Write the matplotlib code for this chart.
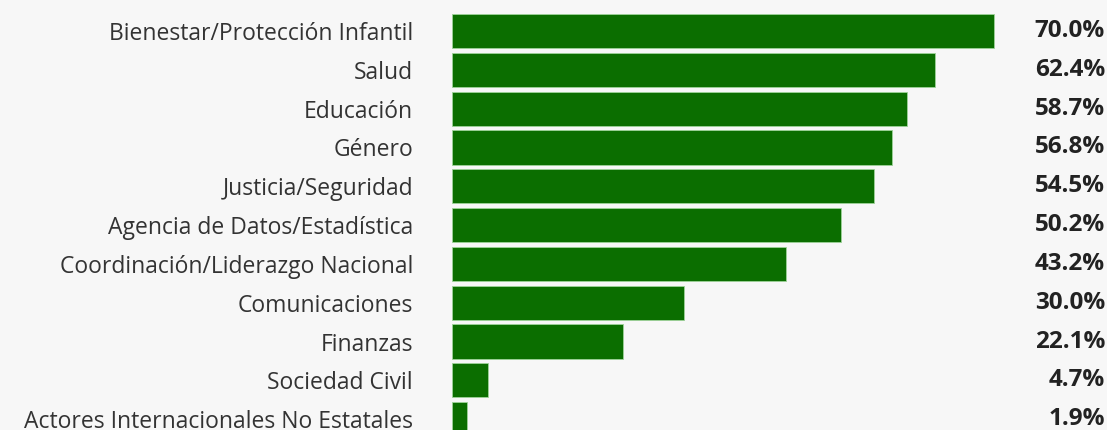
import matplotlib.pyplot as plt
import matplotlib.transforms as mtransforms

# Datos del grafico
categorias = [
    "Bienestar/Protección Infantil",
    "Salud",
    "Educación",
    "Género",
    "Justicia/Seguridad",
    "Agencia de Datos/Estadística",
    "Coordinación/Liderazgo Nacional",
    "Comunicaciones",
    "Finanzas",
    "Sociedad Civil",
    "Actores Internacionales No Estatales",
]
valores = [70.0, 62.4, 58.7, 56.8, 54.5, 50.2, 43.2, 30.0, 22.1, 4.7, 1.9]

FONDO = "#f7f7f7"
VERDE = "#0b6e00"

plt.rcParams["font.family"] = ["Open Sans", "DejaVu Sans"]

fig = plt.figure(figsize=(11.07, 4.30), dpi=100, facecolor=FONDO)
ax = fig.add_axes([452 / 1107, 0, (1010 - 452) / 1107, 1])
ax.set_facecolor(FONDO)

posiciones = list(range(len(categorias)))
ax.barh(posiciones, valores, height=0.88, color=VERDE, edgecolor="#9fd39a", linewidth=0.6)

ax.set_xlim(0, 70 * (1010 - 452) / 542)
ax.set_ylim(10.28, -0.80)

ax.set_yticks(posiciones)
ax.set_yticklabels(categorias, fontsize=16.5, color="#333333")
ax.tick_params(axis="y", length=0, pad=28)
ax.set_xticks([])
for lado in ax.spines.values():
    lado.set_visible(False)

# etiquetas de porcentaje alineadas al borde derecho
trans = mtransforms.blended_transform_factory(fig.transFigure, ax.transData)
for p, v in zip(posiciones, valores):
    ax.text(1105 / 1107, p, f"{v:.1f}%", transform=trans, ha="right", va="center",
            fontsize=17.5, fontweight="bold", color="#222222")

fig.savefig("out.png", dpi=100, facecolor=FONDO)
